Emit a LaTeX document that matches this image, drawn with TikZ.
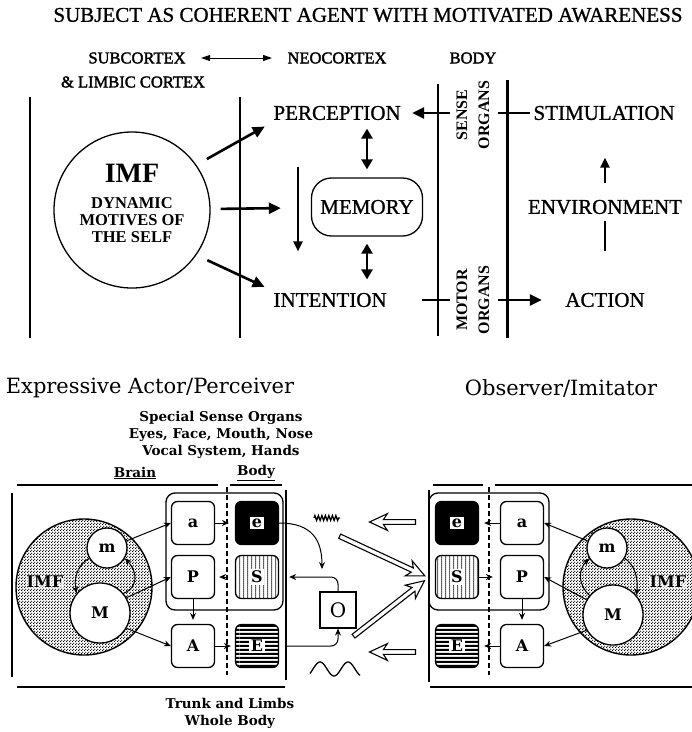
\documentclass[tikz,border=0pt]{standalone}
\usepackage{fontspec}
\setmainfont{Liberation Serif}
\newfontfamily\goudy{DejaVu Serif}
\newfontfamily\inked[FakeBold=1]{Liberation Serif}
\newfontfamily\heavyinked[FakeBold=2]{Liberation Serif}
\usetikzlibrary{arrows.meta,patterns,patterns.meta,shapes.arrows,decorations.pathmorphing}

\newcommand\titlestyle{\inked\fontsize{21}{24}\selectfont}
\newcommand\headstyle{\heavyinked\fontsize{16.5}{19}\selectfont}
\newcommand\termstyle{\inked\fontsize{21}{24}\selectfont}
\newcommand\organstyle{\fontsize{16}{22}\selectfont\bfseries}
\newcommand\sidestyle{\goudy\fontsize{21}{24}\selectfont}
\newcommand\notestyle{\goudy\bfseries\fontsize{13.5}{17}\selectfont}
\newcommand\letterstyle{\goudy\bfseries\fontsize{16}{16}\selectfont}
\newcommand\whiteletter[1]{{\setlength\fboxsep{1.5pt}\colorbox{white}{#1}}}

\tikzdeclarepattern{
  name=bandlines,
  type=uncolored,
  bounding box={(0pt,0pt) and (60pt,4.4pt)},
  tile size={(60pt,4.4pt)},
  code={\fill (0pt,0pt) rectangle (60pt,2.4pt);}
}
\tikzdeclarepattern{
  name=stipple,
  type=uncolored,
  bounding box={(0pt,0pt) and (3pt,3pt)},
  tile size={(3pt,3pt)},
  code={\fill (0.75pt,0.75pt) circle (0.85pt); \fill (2.25pt,2.25pt) circle (0.85pt);}
}
\tikzdeclarepattern{
  name=dotrows,
  type=uncolored,
  bounding box={(0pt,0pt) and (3.6pt,2.4pt)},
  tile size={(3.6pt,2.4pt)},
  code={\fill (1.8pt,1.2pt) circle (0.9pt);}
}

\tikzset{
  fatarrow/.style={line width=2.6pt, -{Triangle[length=12pt,width=11pt]}},
  fatboth/.style={line width=2.6pt, {Triangle[length=10pt,width=11pt]}-{Triangle[length=10pt,width=11pt]}},
  headarrow/.style={line width=1pt, {Triangle[length=9pt,width=6pt]}-{Triangle[length=9pt,width=6pt]}},
  tickline/.style={line width=1.2pt},
  letterbox/.style={draw, line width=1.3pt, rounded corners=6pt, minimum size=43pt, inner sep=0pt, fill=white, font=\letterstyle},
  organbox/.style={line width=1.3pt, rounded corners=9pt},
  bubble/.style={circle, draw, line width=1.3pt, fill=white, inner sep=0pt, font=\letterstyle},
  smallarrow/.style={line width=1pt, -{Stealth[length=7pt,width=6pt]}},
  hollowarrow/.style={single arrow, draw, line width=1.1pt, fill=white, inner sep=1.8pt,
    single arrow head extend=6pt, single arrow head indent=4pt, single arrow tip angle=50},
  divider/.style={line width=1.3pt, dash pattern=on 5pt off 3pt},
  framerule/.style={line width=1.6pt},
}

\begin{document}
\begin{tikzpicture}[x=1pt,y=-1pt]
  \useasboundingbox (0,0) rectangle (692,732);
  % subject as coherent agent
  \node[font=\titlestyle] (title) at (368,15) {SUBJECT AS COHERENT AGENT WITH MOTIVATED AWARENESS};
  \node[font=\headstyle] (subc) at (137,58) {SUBCORTEX};
  \node[font=\headstyle] (neoc) at (337,58) {NEOCORTEX};
  \node[font=\headstyle] (body) at (473,58) {BODY};
  \node[font=\headstyle] (limbic) at (133,82) {\& LIMBIC CORTEX};
  \draw[headarrow, shorten <=12pt, shorten >=12pt] (subc) -- (neoc);
  \draw[tickline] (30,97) -- (30,338);
  \draw[tickline] (240,97) -- (240,338);
  \draw[tickline] (438,84) -- (438,336);
  \draw[line width=3pt] (507,80) -- (507,338);
  \node[circle, draw, line width=1.3pt, minimum size=156pt, inner sep=0pt] (imf) at (132,210) {};
  \node[font=\fontsize{28}{30}\selectfont\bfseries] (imfname) at (132,173) {IMF};
  \node[font=\fontsize{16.5}{17}\selectfont\bfseries, align=center] (motives) at (132,220) {DYNAMIC\\MOTIVES OF\\THE SELF};
  \node[font=\termstyle, anchor=west] (perc) at (270,113) {PERCEPTION};
  \node[font=\termstyle, anchor=west] (intent) at (270,300) {INTENTION};
  \node[draw, line width=1.3pt, rounded corners=20pt, minimum width=111pt, minimum height=58pt, font=\termstyle] (memory) at (367,207) {MEMORY};
  \node[font=\termstyle, anchor=west] (stim) at (530,113) {STIMULATION};
  \node[font=\termstyle] (env) at (605,207) {ENVIRONMENT};
  \node[font=\termstyle] (action) at (605,300) {ACTION};
  \node[font=\organstyle, align=center, rotate=90] (sense) at (473,115) {SENSE\\ORGANS};
  \node[font=\organstyle, align=center, rotate=90] (motor) at (473,300) {MOTOR\\ORGANS};
  \coordinate (sensetap) at (450,113);
  \coordinate (stimtap) at (498,113);
  \coordinate (motortap) at (422,300);
  \coordinate (acttap) at (498,300);
  \draw[fatarrow, shorten <=12pt, shorten >=6pt] (imf.35) -- (perc.south west);
  \draw[fatarrow, shorten <=10pt, shorten >=30pt] (imf) -- (memory);
  \draw[fatarrow, shorten <=12pt, shorten >=6pt] (imf.-35) -- (intent.north west);
  \draw[line width=2pt, -{Triangle[length=10pt,width=9pt]}, shorten <=43pt, shorten >=38pt]
    ([xshift=28pt]perc.south west) -- ([xshift=28pt]intent.north west);
  \draw[fatboth, shorten <=8pt, shorten >=5pt] (memory.north) -- (memory.north |- perc.south);
  \draw[fatboth, shorten <=7pt, shorten >=10pt] (memory.south) -- (memory.south |- intent.north);
  \draw[fatarrow, shorten >=8pt] (sensetap) -- (perc.east);
  \draw[tickline] (stimtap) -- (stim.west);
  \draw[line width=2pt, -{Triangle[length=10pt,width=9pt]}, shorten <=13pt, shorten >=34pt] (env.north) -- (env.north |- stim.south);
  \draw[line width=2pt] (env.south) ++(0,3) -- ++(0,30);
  \draw[tickline] (motortap) -- ++(28,0);
  \draw[fatarrow, shorten >=20pt] (acttap) -- (action.west);
  % expressive actor / perceiver
  \node[font=\sidestyle] (actor) at (150,388) {Expressive Actor/Perceiver};
  \node[font=\sidestyle] (observer) at (561,388) {Observer/Imitator};
  \node[font=\notestyle, align=center] (special) at (221,435) {Special Sense Organs\\Eyes, Face, Mouth, Nose\\Vocal System, Hands};
  \node[font=\notestyle] (brain) at (135,473) {\underline{Brain}};
  \node[font=\notestyle] (bodylab) at (256,473) {\underline{Body}};
  \node[font=\notestyle, align=center] (trunk) at (230,713) {Trunk and Limbs\\Whole Body};
  \draw[framerule] (17,485) -- (218,485);
  \draw[framerule] (230,485) -- (282,485);
  \draw[framerule] (12,493) -- (12,677);
  \draw[framerule] (17,687) -- (285,687);
  \draw[line width=2.2pt] (286,490) -- (286,680);
  \draw[organbox] (166,493) rectangle (283,610);
  \draw[divider] (227,487) -- (227,675);
  \node[circle, draw, line width=1.4pt, pattern=stipple, minimum size=136pt] (limf) at (84,587) {};
  \node[bubble, minimum size=40pt] (lm) at (107,548) {m};
  \node[bubble, minimum size=60pt] (lM) at (100,613) {M};
  \node[font=\goudy\bfseries\fontsize{16}{16}\selectfont, fill=white, inner sep=0.5pt, fill opacity=0.6, text opacity=1] (limftext) at (45,582) {IMF};
  \node[letterbox] (la) at (193,523) {a};
  \node[letterbox, fill=black] (le) at (257,523) {\whiteletter{e}};
  \node[letterbox] (lp) at (193,577) {P};
  \node[letterbox, pattern=dotrows] (ls) at (257,577) {\whiteletter{S}};
  \node[letterbox] (lA) at (193,646) {A};
  \node[letterbox, pattern=bandlines] (lE) at (257,646) {\whiteletter{E}};
  \draw[smallarrow] (lm.20) -- (la.west);
  \draw[smallarrow] (lM.30) -- (lp.west);
  \draw[smallarrow] (lM.-30) -- (lA.west);
  \draw[smallarrow] (lm.210) .. controls (76,566) and (74,580) .. (lM.140);
  \draw[smallarrow] (lM.40) .. controls (138,588) and (138,572) .. (lm.-30);
  \draw[smallarrow, shorten >=6pt] (la) -- (le);
  \draw[smallarrow, shorten <=7pt, shorten >=4pt] (ls) -- (lp);
  \draw[smallarrow, shorten >=4pt] (lp) -- (lA);
  \draw[smallarrow, shorten >=4pt] (lA) -- (lE);
  % between the two
  \node[draw, line width=1.1pt, minimum size=36pt, inner sep=0pt, font=\goudy\fontsize{20}{20}\selectfont] (obj) at (338,610) {O};
  \coordinate (meet) at (322,569);
  \draw[smallarrow] (le.east) .. controls (312,523) and (322,540) .. (meet);
  \draw[smallarrow, rounded corners=7pt, shorten >=10pt] (obj.north) |- (ls.east);
  \draw[smallarrow, rounded corners=7pt, shorten <=8pt] (lE.east) -| (obj.south);
  \draw[line width=1.3pt, decorate, decoration={zigzag, amplitude=2.5pt, segment length=3.5pt}] (314,518) -- (340,518);
  \draw[line width=1.3pt] plot[domain=310:360, samples=60, smooth] (\x,{669-7*sin((\x-313)*12.857)});
  \node[hollowarrow, minimum height=46pt, rotate=180] (backtop) at (395,522) {};
  \node[hollowarrow, minimum height=94pt, rotate=-25] (seeface) at (380,555) {};
  \node[hollowarrow, minimum height=90pt, rotate=38] (seebody) at (387,610) {};
  \node[hollowarrow, minimum height=46pt, rotate=180] (backlow) at (395,652) {};
  % observer / imitator
  \draw[framerule] (433,485) -- (483,485);
  \draw[framerule] (495,485) -- (692,485);
  \draw[line width=2pt] (429,490) -- (429,682);
  \draw[framerule] (430,687) -- (692,687);
  \draw[organbox] (429,493) rectangle (549,610);
  \draw[divider] (489,487) -- (489,675);
  \node[circle, draw, line width=1.4pt, pattern=stipple, minimum size=136pt] (rimf) at (631,587) {};
  \node[bubble, minimum size=40pt] (rm) at (607,548) {m};
  \node[bubble, minimum size=60pt] (rM) at (613,615) {M};
  \node[font=\goudy\bfseries\fontsize{16}{16}\selectfont, fill=white, inner sep=0.5pt, fill opacity=0.6, text opacity=1] (rimftext) at (668,582) {IMF};
  \node[letterbox, fill=black] (re) at (457,523) {\whiteletter{e}};
  \node[letterbox] (ra) at (522,523) {a};
  \node[letterbox, pattern=dotrows] (rs) at (457,577) {\whiteletter{S}};
  \node[letterbox] (rp) at (522,577) {P};
  \node[letterbox, pattern=bandlines] (rE) at (457,646) {\whiteletter{E}};
  \node[letterbox] (rA) at (522,646) {A};
  \draw[smallarrow] (rm.160) -- (ra.east);
  \draw[smallarrow] (rM.150) -- (rp.east);
  \draw[smallarrow] (rM.210) -- (rA.east);
  \draw[smallarrow] (rM.140) .. controls (578,585) and (578,570) .. (rm.210);
  \draw[smallarrow] (rm.-30) .. controls (636,566) and (638,580) .. (rM.40);
  \draw[smallarrow, shorten >=5pt] (ra) -- (re);
  \draw[smallarrow, shorten >=7pt] (rs) -- (rp);
  \draw[smallarrow, shorten >=4pt] (rp) -- (rA);
  \draw[smallarrow, shorten >=5pt] (rA) -- (rE);
\end{tikzpicture}
\end{document}
